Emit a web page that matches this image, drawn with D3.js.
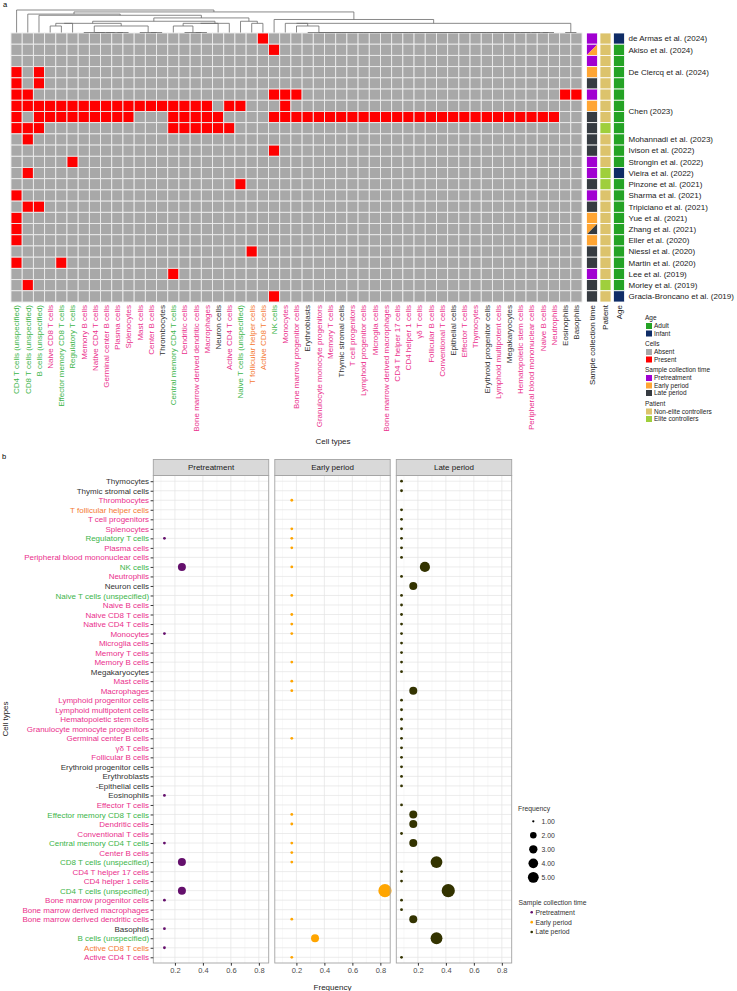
<!DOCTYPE html>
<html>
<head>
<meta charset="utf-8">
<script src="https://cdn.jsdelivr.net/npm/d3@7"></script>
<style>
  body { margin: 0; background: #fff; }
  svg text { font-family: "Liberation Sans", Arial, Helvetica, sans-serif; }
</style>
</head>
<body>
<svg width="737" height="991"></svg>
<script>
// ---------- panel a data ----------
const cellTypes = ["CD4 T cells (unspecified)", "CD8 T cells (unspecified)", "B cells (unspecified)", "Naive CD8 T cells",
  "Effector memory CD8 T cells", "Regulatory T cells", "Memory B cells", "Native CD4 T cells", "Germinal center B cells",
  "Plasma cells", "Splenocytes", "Mast cells", "Center B cells", "Thrombocytes", "Central memory CD4 T cells",
  "Dendritic cells", "Bone marrow derived dendritic cells", "Macrophages", "Neuron cells", "Active CD4 T cells",
  "Naive T cells (unspecified)", "T follicular helper cells", "Active CD8 T cells", "NK cells", "Monocytes",
  "Bone marrow progenitor cells", "Erythroblasts", "Granulocyte monocyte progenitors", "Memory T cells",
  "Thymic stromal cells", "T cell progenitors", "Lymphoid progenitor cells", "Microglia cells",
  "Bone marrow derived macrophages", "CD4 T helper 17 cells", "CD4 helper 1 cells", "γδ T cells", "Follicular B cells",
  "Conventional T cells", "Epithelial cells", "Effector T cells", "Thymocytes", "Erythroid progenitor cells",
  "Lymphoid multipotent cells", "Megakaryocytes", "Hematopoietic stem cells", "Peripheral blood mononuclear cells",
  "Naive B cells", "Neutrophils", "Eosinophils", "Basophils"];
// label colour group per column: g green, p pink, o orange, k black
const cellTypeGroups = "gggpg gpppp pppkg pppkp googp pkppk ppppp ppppk ppkpk ppppk k";

const studyRows = ["de Armas et al. (2024)", "Akiso et al. (2024)", "De Clercq et al. (2024)", "De Clercq et al. (2024)",
  "De Clercq et al. (2024)", "Chen (2023)", "Chen (2023)", "Chen (2023)", "Chen (2023)", "Mohannadi et al. (2023)",
  "Ivison et al. (2022)", "Strongin et al. (2022)", "Vieira et al. (2022)", "Pinzone et al. (2021)",
  "Sharma et al. (2021)", "Tripiciano et al. (2021)", "Yue et al. (2021)", "Zhang et al. (2021)",
  "Eller et al. (2020)", "Niessl et al. (2020)", "Martin et al. (2020)", "Lee et al. (2019)",
  "Morley et al. (2019)", "Gracia-Broncano et al. (2019)"];

// 1 = present, 0 = absent, columns in cellTypes order
const presence = [
  "00000 00000 00000 00000 00100 00000 00000 00000 00000 00000 0",
  "00000 00000 00000 00000 00010 00000 00000 00000 00000 00000 0",
  "00000 00000 00000 00000 00000 00000 00000 00000 00000 00000 0",
  "10100 00000 00000 00000 00000 00000 00000 00000 00000 00000 0",
  "10100 00000 00000 00000 00000 00000 00000 00000 00000 00000 0",
  "11000 00000 00000 00000 00011 10000 00000 00000 00000 00001 1",
  "11111 11111 11111 11101 10001 00000 00000 00000 00000 00000 0",
  "10111 11111 10001 11110 00011 11111 11111 11111 11111 11110 0",
  "11100 00000 00001 11111 00000 00000 00000 00000 00000 00000 0",
  "01000 00000 00000 00000 00000 00000 00000 00000 00000 00000 0",
  "00000 00000 00000 00000 00010 00000 00000 00000 00000 00000 0",
  "00000 10000 00000 00000 00000 00000 00000 00000 00000 00000 0",
  "01000 00000 00000 00000 00000 00000 00000 00000 00000 00000 0",
  "00000 00000 00000 00000 10000 00000 00000 00000 00000 00000 0",
  "10000 00000 00000 00000 00000 00000 00000 00000 00000 00000 0",
  "01100 00000 00000 00000 00000 00000 00000 00000 00000 00000 0",
  "10000 00000 00000 00000 00000 00000 00000 00000 00000 00000 0",
  "10000 00000 00000 00000 00000 00000 00000 00000 00000 00000 0",
  "10000 00000 00000 00000 00000 00000 00000 00000 00000 00000 0",
  "00000 00000 00000 00000 01000 00000 00000 00000 00000 00000 0",
  "10001 00000 00000 00000 00000 00000 00000 00000 00000 00000 0",
  "00000 00000 00001 00000 00000 00000 00000 00000 00000 00000 0",
  "01000 00000 00000 00000 00000 00000 00000 00000 00000 00000 0",
  "00000 00000 00000 00000 00010 00000 00000 00000 00000 00000 0"
];
// P pretreatment, E early, L late (two letters = split cell)
const sampleTime = ["P", "PE", "P", "E", "L", "P", "E", "L", "L", "L", "L", "P", "P", "L", "P", "L", "E", "EL", "E", "L", "L", "P", "L", "L"];
// N non-elite, E elite
const patient = ["N", "N", "N", "N", "N", "N", "N", "N", "E", "N", "N", "N", "E", "E", "N", "N", "N", "N", "N", "N", "N", "N", "E", "N"];
// A adult, I infant
const age = ["I", "A", "A", "A", "A", "A", "A", "A", "A", "A", "A", "A", "I", "A", "A", "A", "A", "A", "A", "A", "A", "A", "A", "I"];

// column dendrogram: [height, child, child, ...]; leaves are column indices
const dendro = [3.46, 0,
  [3.16,
    [2.83, 1,
      [2.65, 2,
        [2.24,
          [1.73,
            [1.41, [1.41, [1, 3, 4], 5], [1, [0, 6, 7, 8, 9, 10], [0, 11, 12, 13]]],
            [1.41, [1.41, [1, 14, [0, 15, 16, 17]], 18], 19]],
          [1.73, 20, [1.41, 21, 22]]]]],
    [2, 23,
      [1.41,
        [1.41, 24, [1, 25, [0, 26, 27, 28, 29, 30, 31, 32, 33, 34, 35, 36, 37, 38, 39, 40, 41, 42, 43, 44, 45, 46, 47, 48]]],
        [0, 49, 50]]]]];

// ---------- panel b data ----------
const bCells = ["Thymocytes", "Thymic stromal cells", "Thrombocytes", "T follicular helper cells", "T cell progenitors",
  "Splenocytes", "Regulatory T cells", "Plasma cells", "Peripheral blood mononuclear cells", "NK cells", "Neutrophils",
  "Neuron cells", "Naive T cells (unspecified)", "Naive B cells", "Naive CD8 T cells", "Native CD4 T cells", "Monocytes",
  "Microglia cells", "Memory T cells", "Memory B cells", "Megakaryocytes", "Mast cells", "Macrophages",
  "Lymphoid progenitor cells", "Lymphoid multipotent cells", "Hematopoietic stem cells",
  "Granulocyte monocyte progenitors", "Germinal center B cells", "γδ T cells", "Follicular B cells",
  "Erythroid progenitor cells", "Erythroblasts", "-Epithelial cells", "Eosinophils", "Effector T cells",
  "Effector memory CD8 T cells", "Dendritic cells", "Conventional T cells", "Central memory CD4 T cells",
  "Center B cells", "CD8 T cells (unspecified)", "CD4 T helper 17 cells", "CD4 helper 1 cells",
  "CD4 T cells (unspecified)", "Bone marrow progenitor cells", "Bone marrow derived macrophages",
  "Bone marrow derived dendritic cells", "Basophils", "B cells (unspecified)", "Active CD8 T cells", "Active CD4 T cells"];
const bCellGroups = "kkpop pgppg pkgpp ppppp kpppp ppppp kkkkp gppgp gppgp ppkgo p";

const periods = ["Pretreatment", "Early period", "Late period"];
// [cell type, frequency, number of studies]
const pretreatment = [
  ["Regulatory T cells", 0.125, 1], ["NK cells", 0.25, 2], ["Monocytes", 0.125, 1], ["Eosinophils", 0.125, 1],
  ["Central memory CD4 T cells", 0.125, 1], ["CD8 T cells (unspecified)", 0.25, 2],
  ["CD4 T cells (unspecified)", 0.25, 2], ["Bone marrow progenitor cells", 0.125, 1], ["Basophils", 0.125, 1],
  ["Active CD8 T cells", 0.125, 1]];
const earlyPeriod = [
  ["Thrombocytes", 0.167, 1], ["Splenocytes", 0.167, 1], ["Regulatory T cells", 0.167, 1], ["Plasma cells", 0.167, 1],
  ["NK cells", 0.167, 1], ["Naive T cells (unspecified)", 0.167, 1], ["Naive CD8 T cells", 0.167, 1],
  ["Native CD4 T cells", 0.167, 1], ["Monocytes", 0.167, 1], ["Memory B cells", 0.167, 1], ["Mast cells", 0.167, 1],
  ["Macrophages", 0.167, 1], ["Germinal center B cells", 0.167, 1], ["Effector memory CD8 T cells", 0.167, 1],
  ["Dendritic cells", 0.167, 1], ["Central memory CD4 T cells", 0.167, 1], ["Center B cells", 0.167, 1],
  ["CD8 T cells (unspecified)", 0.167, 1], ["CD4 T cells (unspecified)", 0.833, 5],
  ["Bone marrow derived dendritic cells", 0.167, 1], ["B cells (unspecified)", 0.333, 2], ["Active CD4 T cells", 0.167, 1]];
const latePeriod = [
  ["Thymocytes", 0.083, 1], ["Thymic stromal cells", 0.083, 1], ["T follicular helper cells", 0.083, 1],
  ["T cell progenitors", 0.083, 1], ["Splenocytes", 0.083, 1], ["Regulatory T cells", 0.083, 1],
  ["Plasma cells", 0.083, 1], ["Peripheral blood mononuclear cells", 0.083, 1], ["NK cells", 0.25, 3],
  ["Neutrophils", 0.083, 1], ["Neuron cells", 0.167, 2], ["Naive T cells (unspecified)", 0.083, 1],
  ["Naive B cells", 0.083, 1], ["Naive CD8 T cells", 0.083, 1], ["Native CD4 T cells", 0.083, 1],
  ["Monocytes", 0.083, 1], ["Microglia cells", 0.083, 1], ["Memory T cells", 0.083, 1], ["Memory B cells", 0.083, 1],
  ["Megakaryocytes", 0.083, 1], ["Macrophages", 0.167, 2], ["Lymphoid progenitor cells", 0.083, 1],
  ["Lymphoid multipotent cells", 0.083, 1], ["Hematopoietic stem cells", 0.083, 1],
  ["Granulocyte monocyte progenitors", 0.083, 1], ["Germinal center B cells", 0.083, 1], ["γδ T cells", 0.083, 1],
  ["Follicular B cells", 0.083, 1], ["Erythroid progenitor cells", 0.083, 1], ["Erythroblasts", 0.083, 1],
  ["-Epithelial cells", 0.083, 1], ["Effector T cells", 0.083, 1], ["Effector memory CD8 T cells", 0.167, 2],
  ["Dendritic cells", 0.167, 2], ["Conventional T cells", 0.083, 1], ["Central memory CD4 T cells", 0.167, 2],
  ["CD8 T cells (unspecified)", 0.333, 4], ["CD4 T helper 17 cells", 0.083, 1], ["CD4 helper 1 cells", 0.083, 1],
  ["CD4 T cells (unspecified)", 0.417, 5], ["Bone marrow progenitor cells", 0.083, 1],
  ["Bone marrow derived macrophages", 0.083, 1], ["Bone marrow derived dendritic cells", 0.167, 2],
  ["B cells (unspecified)", 0.333, 4], ["Active CD4 T cells", 0.083, 1]];
const sizeTicks = [1, 2, 3, 4, 5];

// ---------- styles ----------
const labelColor = { g: "#3cb54a", p: "#ea2f8c", o: "#f47a33", k: "#333333" };
const timeColor = { P: "#a100d1", E: "#ffa533", L: "#363b41" };
const patientColor = { N: "#dcc36c", E: "#9fcf3c" };
const ageColor = { A: "#25a325", I: "#0f2c66" };
const cellColor = { "0": "#a8a8a8", "1": "#ff0000" };
const periodColor = ["#640f6c", "#ffa500", "#333300"];

const svg = d3.select("svg");

// ================= panel a =================
const a = svg.append("g");
a.append("text").attr("x", 3).attr("y", 7).attr("font-size", 7.5).text("a");

const hx = d3.scaleBand().domain(d3.range(cellTypes.length)).range([11, 582]);
const hy = d3.scaleBand().domain(d3.range(studyRows.length)).range([33, 302]);

const cells = presence.flatMap((s, r) =>
  s.replace(/ /g, "").split("").map((v, c) => ({ r, c, v })));

a.append("g").selectAll("rect").data(cells).join("rect")
  .attr("x", d => hx(d.c)).attr("y", d => hy(d.r))
  .attr("width", hx.bandwidth()).attr("height", hy.bandwidth())
  .attr("fill", d => cellColor[d.v])
  .attr("stroke", "#ececec").attr("stroke-width", 0.9);

// dendrogram (nodes with more than two children are read as right-nested pairs)
const dy = d3.scaleLinear().domain([0, d3.max([dendro[0]])]).range([32.5, 10]);
const segs = [];
function placeNode(node) {
  if (typeof node === "number") return { x: hx(node) + hx.bandwidth() / 2, h: 0 };
  const [h, first, ...rest] = node;
  const left = placeNode(first);
  const right = placeNode(rest.length > 1 ? [h, ...rest] : rest[0]);
  [left, right].forEach(p => segs.push([p.x, dy(p.h), p.x, dy(h)]));
  segs.push([left.x, dy(h), right.x, dy(h)]);
  return { x: (left.x + right.x) / 2, h };
}
placeNode(dendro);
a.append("g").selectAll("line").data(segs).join("line")
  .attr("x1", d => d[0]).attr("y1", d => d[1]).attr("x2", d => d[2]).attr("y2", d => d[3])
  .attr("stroke", "#6b6b6b").attr("stroke-width", 0.8);

// column labels
a.append("g").selectAll("text").data(cellTypes).join("text")
  .attr("transform", (d, i) => `translate(${hx(i) + hx.bandwidth() / 2 + 2.8},305) rotate(-90)`)
  .attr("text-anchor", "end").attr("font-size", 8)
  .attr("fill", (d, i) => labelColor[cellTypeGroups.replace(/ /g, "")[i]])
  .text(d => d);
a.append("text").attr("x", 333).attr("y", 443.5).attr("text-anchor", "middle")
  .attr("font-size", 8).attr("fill", "#222").text("Cell types");

// annotation columns
const annoNames = ["Sample collection time", "Patient", "Age"];
const ax = d3.scaleBand().domain(annoNames).range([586.5, 624.5]).paddingInner(0.18);
const ag = a.append("g");
const bw = ax.bandwidth(), bh = hy.bandwidth();
sampleTime.forEach((t, r) => {
  const x0 = ax("Sample collection time"), y0 = hy(r);
  if (t.length === 1) {
    ag.append("rect").attr("x", x0).attr("y", y0).attr("width", bw).attr("height", bh)
      .attr("fill", timeColor[t]).attr("stroke", "#fff").attr("stroke-width", 0.8);
  } else {
    ag.append("path").attr("d", `M${x0},${y0}H${x0 + bw}L${x0},${y0 + bh}Z`).attr("fill", timeColor[t[0]]);
    ag.append("path").attr("d", `M${x0 + bw},${y0}V${y0 + bh}H${x0}Z`).attr("fill", timeColor[t[1]]);
    ag.append("rect").attr("x", x0).attr("y", y0).attr("width", bw).attr("height", bh)
      .attr("fill", "none").attr("stroke", "#fff").attr("stroke-width", 0.8);
  }
});
ag.selectAll(".pt").data(patient).join("rect").attr("class", "pt")
  .attr("x", ax("Patient")).attr("y", (d, r) => hy(r)).attr("width", bw).attr("height", bh)
  .attr("fill", d => patientColor[d]).attr("stroke", "#fff").attr("stroke-width", 0.8);
ag.selectAll(".ag").data(age).join("rect").attr("class", "ag")
  .attr("x", ax("Age")).attr("y", (d, r) => hy(r)).attr("width", bw).attr("height", bh)
  .attr("fill", d => ageColor[d]).attr("stroke", "#fff").attr("stroke-width", 0.8);
ag.selectAll("text").data(annoNames).join("text")
  .attr("transform", d => `translate(${ax(d) + bw / 2 + 2.8},305) rotate(-90)`)
  .attr("text-anchor", "end").attr("font-size", 8).attr("fill", "#222").text(d => d);

// study labels (consecutive rows of one study share a label)
const groups = [];
studyRows.forEach((s, r) => {
  const last = groups[groups.length - 1];
  if (last && last.name === s) last.rows.push(r); else groups.push({ name: s, rows: [r] });
});
a.append("g").selectAll("text").data(groups).join("text")
  .attr("x", 628.5)
  .attr("y", d => d3.mean(d.rows, r => hy(r) + bh / 2))
  .attr("dy", "0.35em").attr("font-size", 8).attr("fill", "#222").text(d => d.name);

// heatmap legend
const legendA = [
  { title: "Age", items: [["Adult", ageColor.A], ["Infant", ageColor.I]] },
  { title: "Cells", items: [["Absent", cellColor["0"]], ["Present", cellColor["1"]]] },
  { title: "Sample collection time", items: [["Pretreatment", timeColor.P], ["Early period", timeColor.E], ["Late period", timeColor.L]] },
  { title: "Patient", items: [["Non-elite controllers", patientColor.N], ["Elite controllers", patientColor.E]] }
];
let ly = 320;
const lg = a.append("g").attr("font-size", 6.5).attr("fill", "#222");
legendA.forEach(grp => {
  lg.append("text").attr("x", 645).attr("y", ly).text(grp.title);
  ly += 3;
  grp.items.forEach(([lab, col]) => {
    lg.append("rect").attr("x", 646).attr("y", ly).attr("width", 6).attr("height", 6).attr("fill", col);
    lg.append("text").attr("x", 654).attr("y", ly + 5).text(lab);
    ly += 7.5;
  });
  ly += 8;
});

// ================= panel b =================
const b = svg.append("g");
b.append("text").attr("x", 2).attr("y", 459).attr("font-size", 7.5).text("b");

const periodData = [pretreatment, earlyPeriod, latePeriod];
const fx = d3.scaleBand().domain(periods).range([153.3, 511.7]).paddingInner(0.05);
const [fmin, fmax] = d3.extent(periodData.flat(), d => d[1]);
const pad = (fmax - fmin) * 0.05;
const x = d3.scaleLinear().domain([fmin - pad, fmax + pad]).range([0, fx.bandwidth()]);
const pTop = 475.5, pBottom = 963;
const y = d3.scalePoint().domain(bCells).range([pTop, pBottom]).padding(0.6);
const rScale = d3.scaleSqrt().domain([0, 4]).range([1.4, 6.6]);
const radius = n => rScale(n - 1);
const bGroups = bCellGroups.replace(/ /g, "");

periods.forEach((p, i) => {
  const g = b.append("g").attr("transform", `translate(${fx(p)},0)`);
  const w = fx.bandwidth();
  g.append("rect").attr("x", 0).attr("y", pTop).attr("width", w).attr("height", pBottom - pTop).attr("fill", "#fff");
  g.selectAll(".mn").data([0.1, 0.3, 0.5, 0.7]).join("line").attr("class", "mn")
    .attr("x1", d => x(d)).attr("x2", d => x(d)).attr("y1", pTop).attr("y2", pBottom)
    .attr("stroke", "#f1f1f1").attr("stroke-width", 0.5);
  g.selectAll(".mj").data([0.2, 0.4, 0.6, 0.8]).join("line").attr("class", "mj")
    .attr("x1", d => x(d)).attr("x2", d => x(d)).attr("y1", pTop).attr("y2", pBottom)
    .attr("stroke", "#e4e4e4").attr("stroke-width", 0.7);
  g.selectAll(".hz").data(bCells).join("line").attr("class", "hz")
    .attr("x1", 0).attr("x2", w).attr("y1", d => y(d)).attr("y2", d => y(d))
    .attr("stroke", "#e4e4e4").attr("stroke-width", 0.7);
  g.selectAll("circle").data(periodData[i]).join("circle")
    .attr("cx", d => x(d[1])).attr("cy", d => y(d[0])).attr("r", d => radius(d[2]))
    .attr("fill", periodColor[i]);
  g.append("rect").attr("x", 0).attr("y", pTop).attr("width", w).attr("height", pBottom - pTop)
    .attr("fill", "none").attr("stroke", "#a3a3a3").attr("stroke-width", 0.9);
  // strip
  g.append("rect").attr("x", 0).attr("y", 459.5).attr("width", w).attr("height", 16)
    .attr("fill", "#d9d9d9").attr("stroke", "#a3a3a3").attr("stroke-width", 0.9);
  g.append("text").attr("x", w / 2).attr("y", 470.3).attr("text-anchor", "middle")
    .attr("font-size", 8).attr("fill", "#1a1a1a").text(p);
  // x axis
  const xa = g.append("g").attr("transform", `translate(0,${pBottom})`)
    .call(d3.axisBottom(x).tickValues([0.2, 0.4, 0.6, 0.8]).tickSize(2.7).tickPadding(2).tickFormat(d3.format(".1f")));
  xa.select(".domain").remove();
  xa.selectAll("line").attr("stroke", "#333");
  xa.selectAll("text").attr("font-size", 7.5).attr("fill", "#4d4d4d").attr("font-family", null);
});

const ya = b.append("g").attr("transform", `translate(${fx(periods[0])},0)`)
  .call(d3.axisLeft(y).tickSize(2.7).tickPadding(1.5));
ya.select(".domain").remove();
ya.selectAll("line").attr("stroke", "#333");
ya.selectAll("text").attr("font-size", 8).attr("font-family", null)
  .attr("fill", d => labelColor[bGroups[bCells.indexOf(d)]]);

b.append("text").attr("transform", "translate(7.5,719) rotate(-90)").attr("text-anchor", "middle")
  .attr("font-size", 8).attr("fill", "#222").text("Cell types");
b.append("text").attr("x", 332.5).attr("y", 989.5).attr("text-anchor", "middle")
  .attr("font-size", 8).attr("fill", "#222").text("Frequency");

// size legend
const sl = b.append("g").attr("font-size", 6.8).attr("fill", "#333");
sl.append("text").attr("x", 518).attr("y", 810.5).text("Frequency");
sizeTicks.forEach((v, i) => {
  const cy = 821.3 + i * 14;
  sl.append("circle").attr("cx", 533.3).attr("cy", cy).attr("r", radius(v) * 0.82).attr("fill", "#000");
  sl.append("text").attr("x", 541.5).attr("y", cy).attr("dy", "0.35em").text(d3.format(".2f")(v));
});
// colour legend
sl.append("text").attr("x", 518.5).attr("y", 904.5).text("Sample collection time");
periods.forEach((p, i) => {
  const cy = 912.3 + i * 9.85;
  sl.append("circle").attr("cx", 531.7).attr("cy", cy).attr("r", 1.3).attr("fill", periodColor[i]);
  sl.append("text").attr("x", 535.5).attr("y", cy).attr("dy", "0.35em").text(p);
});
</script>
</body>
</html>
